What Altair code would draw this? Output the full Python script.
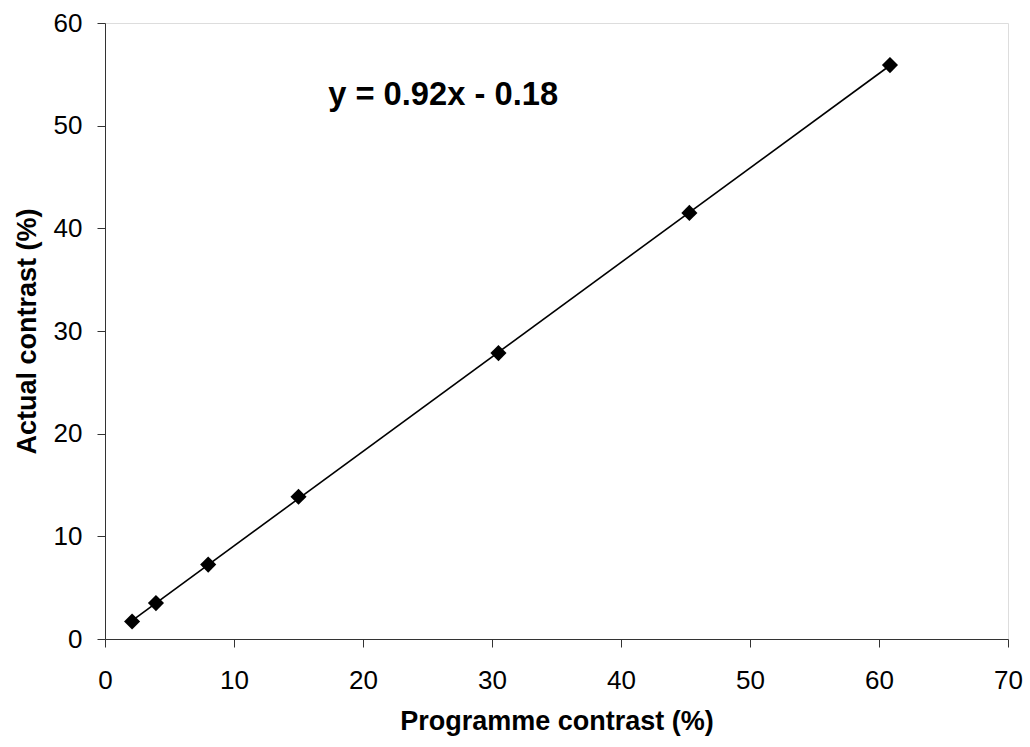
import altair as alt
import pandas as pd

# Measured contrast: programme setting vs. actual (percent)
programme = [2.1, 3.95, 8.0, 15.0, 30.5, 45.3, 60.85]
actual = [1.7, 3.5, 7.25, 13.85, 27.85, 41.5, 55.9]

# Fitted-line equation label and where it sits (data units)
eq_text = ["y = 0.92x - 0.18"]
eq_x = [17.3]
eq_y = [52.0]

df = pd.DataFrame({"programme": programme, "actual": actual})
eq_df = pd.DataFrame({"label": eq_text, "x": eq_x, "y": eq_y})

FONT = "Liberation Sans"

x_enc = alt.X(
    "programme:Q",
    scale=alt.Scale(domain=[0, 70], nice=False, zero=True),
    axis=alt.Axis(
        title="Programme contrast (%)",
        values=[0, 10, 20, 30, 40, 50, 60, 70],
        grid=False,
        domainColor="#333333",
        tickColor="#333333",
        tickSize=8,
        labelFontSize=26,
        labelFont=FONT,
        labelColor="black",
        labelPadding=20,
        labelFlush=False,
        titleFont=FONT,
        titleFontSize=27,
        titleFontWeight="bold",
        titleColor="black",
        titleBaseline="alphabetic",
        titleY=90,
    ),
)
y_enc = alt.Y(
    "actual:Q",
    scale=alt.Scale(domain=[0, 60], nice=False, zero=True),
    axis=alt.Axis(
        title="Actual contrast (%)",
        values=[0, 10, 20, 30, 40, 50, 60],
        grid=False,
        domainColor="#333333",
        tickColor="#333333",
        tickSize=8,
        labelFontSize=26,
        labelFont=FONT,
        labelColor="black",
        labelPadding=15,
        labelFlush=False,
        titleFont=FONT,
        titleFontSize=27,
        titleFontWeight="bold",
        titleColor="black",
        titleBaseline="alphabetic",
        titleX=-70,
        titleY=308,
        titleAlign="center",
        titleAngle=270,
    ),
)

base = alt.Chart(df)

trend = base.transform_regression("programme", "actual", method="linear").mark_line(
    color="black", strokeWidth=1.6
).encode(x=x_enc, y=y_enc)

points = base.mark_point(
    shape="diamond", filled=True, color="black", size=260, opacity=1
).encode(x="programme:Q", y="actual:Q")

equation = alt.Chart(eq_df).mark_text(
    align="left",
    baseline="alphabetic",
    font=FONT,
    fontSize=32.7,
    fontWeight="bold",
    color="black",
).encode(x="x:Q", y="y:Q", text="label:N")

chart = (
    alt.layer(trend, points, equation)
    .properties(
        width=903,
        height=616,
        autosize=alt.AutoSizeParams(type="none"),
        padding={"left": 105, "top": 23, "right": 22, "bottom": 108},
    )
    .configure_view(stroke=None)
    .configure(background="white")
)

chart.save("out.html", embed_options={"renderer": "svg", "actions": False})
